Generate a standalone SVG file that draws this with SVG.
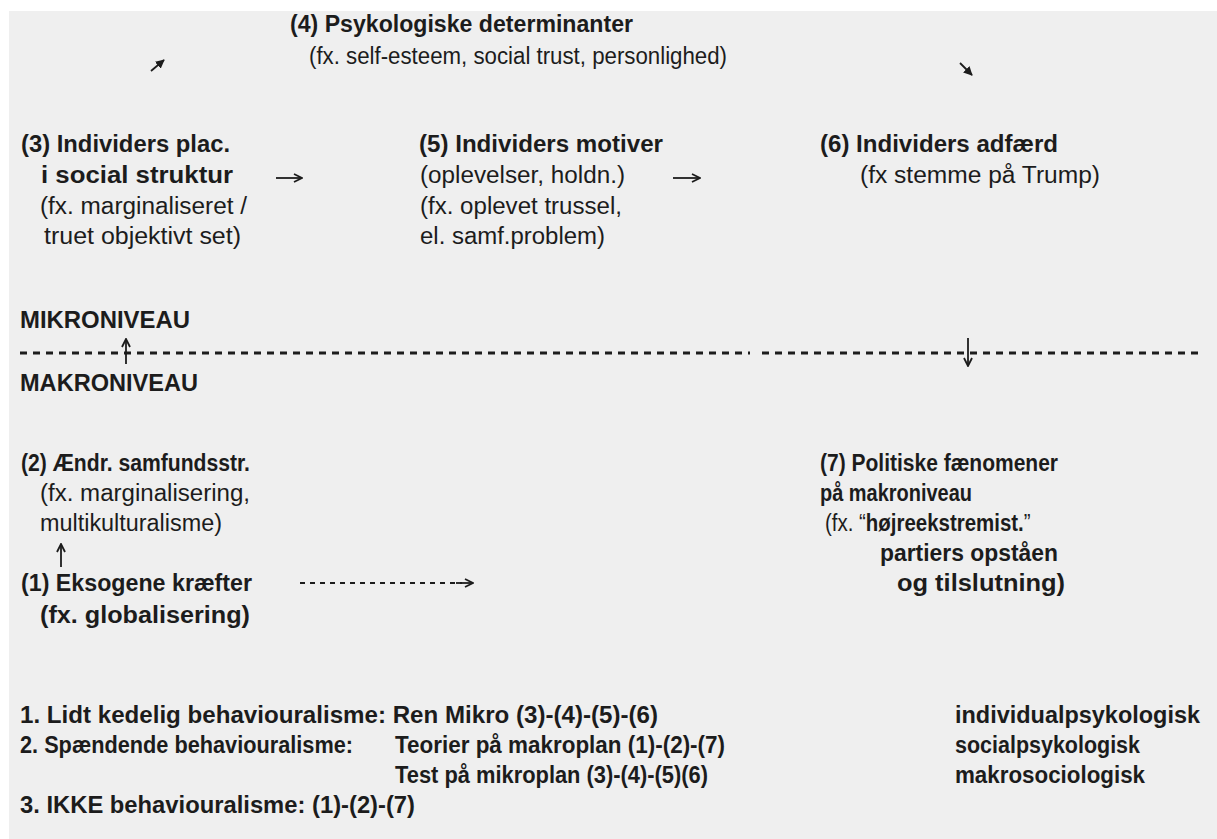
<svg xmlns="http://www.w3.org/2000/svg" width="1217" height="839" viewBox="0 0 1217 839">
<defs>
<style>
text{font-family:"Liberation Sans",Arial,sans-serif;font-size:23.5px;fill:#1c1c1c}
.b{font-weight:bold}
.c{stroke:#1c1c1c;stroke-width:1.8;fill:none}
.d{stroke:#1c1c1c;stroke-width:2.8;stroke-dasharray:7 6;fill:none}
.sd{stroke:#1c1c1c;stroke-width:1.8;stroke-dasharray:5 5;fill:none}
</style>
<marker id="ah" viewBox="0 0 10 10" refX="9" refY="5" markerWidth="10" markerHeight="10" markerUnits="userSpaceOnUse" orient="auto"><path d="M1,1 L9,5 L1,9" fill="none" stroke="#1c1c1c" stroke-width="1.8"/></marker>
<marker id="fh" viewBox="0 0 10 10" refX="9" refY="5" markerWidth="9" markerHeight="9" markerUnits="userSpaceOnUse" orient="auto"><path d="M0,0 L10,5 L0,10 z" fill="#1c1c1c"/></marker>
</defs>
<rect x="0" y="0" width="1217" height="839" fill="#ffffff"/>
<rect x="9" y="11" width="1208" height="828" fill="#efefef"/>

<g id="n4">
<text class="b" x="290" y="32" textLength="343" lengthAdjust="spacingAndGlyphs">(4) Psykologiske determinanter</text>
<text x="309" y="64" textLength="418" lengthAdjust="spacingAndGlyphs">(fx. self-esteem, social trust, personlighed)</text>
</g>
<g id="n3">
<text class="b" x="21" y="152" textLength="209" lengthAdjust="spacingAndGlyphs">(3) Individers plac.</text>
<text class="b" x="41" y="183" textLength="192" lengthAdjust="spacingAndGlyphs">i social struktur</text>
<text x="40" y="214" textLength="207" lengthAdjust="spacingAndGlyphs">(fx. marginaliseret /</text>
<text x="44" y="244" textLength="197" lengthAdjust="spacingAndGlyphs">truet objektivt set)</text>
</g>
<g id="n5">
<text class="b" x="419" y="152" textLength="244" lengthAdjust="spacingAndGlyphs">(5) Individers motiver</text>
<text x="420" y="183" textLength="205" lengthAdjust="spacingAndGlyphs">(oplevelser, holdn.)</text>
<text x="420" y="214" textLength="202" lengthAdjust="spacingAndGlyphs">(fx. oplevet trussel,</text>
<text x="420" y="244" textLength="185" lengthAdjust="spacingAndGlyphs">el. samf.problem)</text>
</g>
<g id="n6">
<text class="b" x="820" y="152" textLength="238" lengthAdjust="spacingAndGlyphs">(6) Individers adfærd</text>
<text x="860" y="183" textLength="240" lengthAdjust="spacingAndGlyphs">(fx stemme på Trump)</text>
</g>
<g id="levels">
<text class="b" x="20" y="328" textLength="170" lengthAdjust="spacingAndGlyphs">MIKRONIVEAU</text>
<text class="b" x="20" y="391" textLength="178" lengthAdjust="spacingAndGlyphs">MAKRONIVEAU</text>
</g>
<g id="n2">
<text class="b" x="21" y="471" textLength="229" lengthAdjust="spacingAndGlyphs">(2) Ændr. samfundsstr.</text>
<text x="40" y="501" textLength="210" lengthAdjust="spacingAndGlyphs">(fx. marginalisering,</text>
<text x="40" y="531" textLength="182" lengthAdjust="spacingAndGlyphs">multikulturalisme)</text>
</g>
<g id="n1">
<text class="b" x="21" y="591" textLength="231" lengthAdjust="spacingAndGlyphs">(1) Eksogene kræfter</text>
<text class="b" x="40" y="623" textLength="210" lengthAdjust="spacingAndGlyphs">(fx. globalisering)</text>
</g>
<g id="n7">
<text class="b" x="820" y="471" textLength="238" lengthAdjust="spacingAndGlyphs">(7) Politiske fænomener</text>
<text class="b" x="820" y="501" textLength="152" lengthAdjust="spacingAndGlyphs">på makroniveau</text>
<text transform="translate(825,531) scale(0.87,1)">(fx. “<tspan class="b">højreekstremist.</tspan>”</text>
<text class="b" x="880" y="561" textLength="178" lengthAdjust="spacingAndGlyphs">partiers opståen</text>
<text class="b" x="897" y="591" textLength="168" lengthAdjust="spacingAndGlyphs">og tilslutning)</text>
</g>
<g id="legend">
<text class="b" x="20" y="723" textLength="638" lengthAdjust="spacingAndGlyphs">1. Lidt kedelig behaviouralisme: Ren Mikro (3)-(4)-(5)-(6)</text>
<text class="b" x="20" y="753" textLength="333" lengthAdjust="spacingAndGlyphs">2. Spændende behaviouralisme:</text>
<text class="b" x="395" y="753" textLength="330" lengthAdjust="spacingAndGlyphs">Teorier på makroplan (1)-(2)-(7)</text>
<text class="b" x="395" y="783" textLength="313" lengthAdjust="spacingAndGlyphs">Test på mikroplan (3)-(4)-(5)(6)</text>
<text class="b" x="20" y="813" textLength="395" lengthAdjust="spacingAndGlyphs">3. IKKE behaviouralisme: (1)-(2)-(7)</text>
<text class="b" x="955" y="723" textLength="245" lengthAdjust="spacingAndGlyphs">individualpsykologisk</text>
<text class="b" x="955" y="753" textLength="185" lengthAdjust="spacingAndGlyphs">socialpsykologisk</text>
<text class="b" x="955" y="783" textLength="190" lengthAdjust="spacingAndGlyphs">makrosociologisk</text>
</g>

<g id="connectors">
<path class="d" d="M20,353 H750 M762,353 H1200"/>
<path class="c" marker-end="url(#fh)" d="M151,71 L164,60"/>
<path class="c" marker-end="url(#fh)" d="M960,63 L972,75"/>
<path class="c" marker-end="url(#ah)" d="M276,178 H302"/>
<path class="c" marker-end="url(#ah)" d="M673,178 H700"/>
<path class="c" marker-end="url(#ah)" d="M126,364 V339"/>
<path class="c" marker-end="url(#ah)" d="M968,338 V366"/>
<path class="c" marker-end="url(#ah)" d="M61,567 V544"/>
<path class="sd" d="M300,583 H462"/>
<path class="c" marker-end="url(#ah)" d="M456,583 H473"/>
</g>
</svg>
